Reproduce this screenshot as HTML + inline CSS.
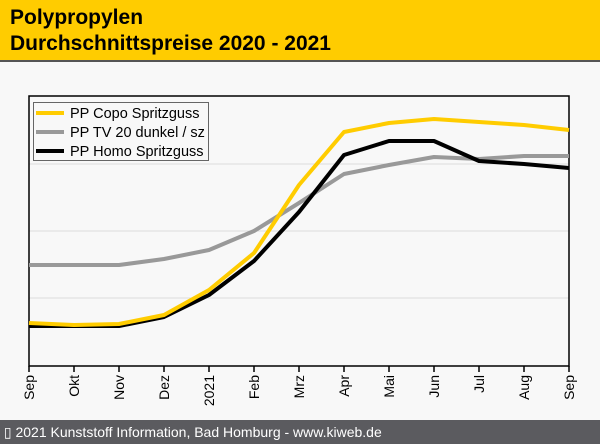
<!DOCTYPE html>
<html><head><meta charset="utf-8"><style>
body{margin:0;width:600px;height:444px;background:#f8f8f8;font-family:"Liberation Sans",sans-serif;overflow:hidden;position:relative}
.hd{position:absolute;left:0;top:0;width:600px;height:60px;background:#ffcc00;border-bottom:2px solid #555}
.hd div{position:absolute;left:10px;font-weight:bold;font-size:21px;color:#000}
.ft{position:absolute;left:0;top:420px;width:600px;height:24px;background:#5b5b5f;color:#fff;font-size:14px;line-height:24px}
</style></head><body>
<div class="hd"><div style="top:6px">Polypropylen</div><div style="top:32px">Durchschnittspreise 2020 - 2021</div></div>
<svg width="600" height="444" style="position:absolute;left:0;top:0">
<g stroke="#ddd" stroke-width="1">
<line x1="29" y1="164" x2="569" y2="164"/><line x1="29" y1="231" x2="569" y2="231"/><line x1="29" y1="298" x2="569" y2="298"/></g>
<rect x="29" y="96" width="540" height="270" fill="none" stroke="#000" stroke-width="1.5"/>
<g fill="none" stroke-width="4" stroke-linejoin="round">
<polyline stroke="#999" points="29,265 74,265 119,265 164,259 209,250 254,231 299,203 344,174 389,165 434,157 479,159 524,156 569,156"/>
<polyline stroke="#000" points="29,326 74,326 119,326 164,317 209,295 254,261 299,212 344,155 389,141 434,141 479,161 524,164 569,168"/>
<polyline stroke="#ffcc00" points="29,323 74,325 119,324 164,315 209,290 254,253 299,185 344,132 389,123 434,119 479,122 524,125 569,130"/>
</g>
<rect x="33.5" y="102.5" width="175" height="58" fill="#f8f8f8" stroke="#666"/>
<g stroke-width="4"><line x1="36" y1="113" x2="64" y2="113" stroke="#ffcc00"/><line x1="36" y1="132" x2="64" y2="132" stroke="#999"/><line x1="36" y1="151" x2="64" y2="151" stroke="#000"/></g>
<g font-size="14.5" fill="#000"><text x="70" y="118">PP Copo Spritzguss</text><text x="70" y="137">PP TV 20 dunkel / sz</text><text x="70" y="156">PP Homo Spritzguss</text></g>
<g stroke="#000" stroke-width="1.5">
<line x1="29" y1="366" x2="29" y2="372"/><line x1="74" y1="366" x2="74" y2="372"/><line x1="119" y1="366" x2="119" y2="372"/><line x1="164" y1="366" x2="164" y2="372"/><line x1="209" y1="366" x2="209" y2="372"/><line x1="254" y1="366" x2="254" y2="372"/><line x1="299" y1="366" x2="299" y2="372"/><line x1="344" y1="366" x2="344" y2="372"/><line x1="389" y1="366" x2="389" y2="372"/><line x1="434" y1="366" x2="434" y2="372"/><line x1="479" y1="366" x2="479" y2="372"/><line x1="524" y1="366" x2="524" y2="372"/><line x1="569" y1="366" x2="569" y2="372"/></g>
<g font-size="14" fill="#000" text-anchor="end">
<text transform="translate(34,375) rotate(-90)">Sep</text>
<text transform="translate(79,375) rotate(-90)">Okt</text>
<text transform="translate(124,375) rotate(-90)">Nov</text>
<text transform="translate(169,375) rotate(-90)">Dez</text>
<text transform="translate(214,375) rotate(-90)">2021</text>
<text transform="translate(259,375) rotate(-90)">Feb</text>
<text transform="translate(304,375) rotate(-90)">Mrz</text>
<text transform="translate(349,375) rotate(-90)">Apr</text>
<text transform="translate(394,375) rotate(-90)">Mai</text>
<text transform="translate(439,375) rotate(-90)">Jun</text>
<text transform="translate(484,375) rotate(-90)">Jul</text>
<text transform="translate(529,375) rotate(-90)">Aug</text>
<text transform="translate(574,375) rotate(-90)">Sep</text>
</g>
</svg>
<div class="ft">&nbsp;▯ 2021 Kunststoff Information, Bad Homburg - www.kiweb.de</div>
</body></html>
